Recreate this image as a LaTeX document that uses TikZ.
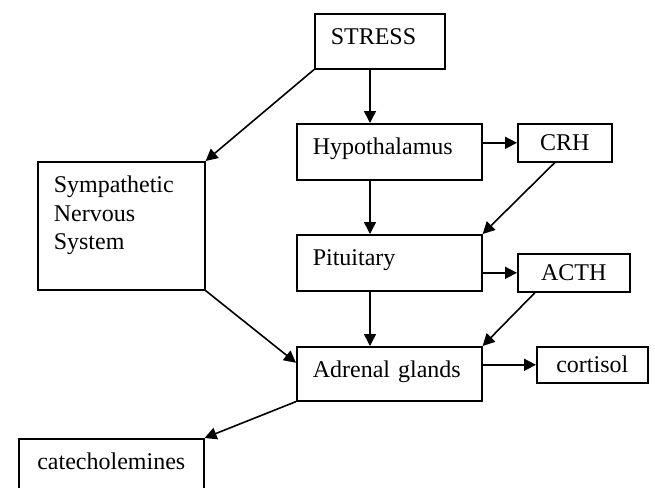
\documentclass[tikz,border=0pt]{standalone}
\usepackage{fontspec}
\setmainfont{Liberation Serif}
\usetikzlibrary{arrows.meta}
\tikzset{
  box/.style = {draw=black, line width=0.8pt, anchor=north west, inner sep=0pt,
    font=\fontsize{12}{14.25}\selectfont},
  box_l/.style = {box, align=left, inner xsep=8pt, inner ysep=7.5pt,
    text height=8pt},% text on top, left
  box_c/.style = {box, align=center, text height=8pt, text depth=0pt},% text centered
}

\begin{document}
\begin{tikzpicture}[x=0.5pt, y=-0.5pt, >={Triangle[length=6pt,width=6pt]},
  line width=0.8pt]
  \path[use as bounding box, clip] (0,0) rectangle (655,488);

  \coordinate (col) at (370,0);

  \node[box_l, text width=49pt, text depth=4.5pt] (stress) at (314,13) {STRESS};
  \node[box_l, text width=76.5pt, text depth=5pt] (hypo) at (296,123) {Hypothalamus};
  \node[box_l, text width=76.5pt, text depth=5pt] (pit) at (296,234) {Pituitary};
  \node[box_l, text width=76.5pt, text depth=4pt] (adrenal) at (296,346) {Adrenal glands};
  \node[box_l, text width=67.5pt, text depth=41pt] (symp) at (37,161) {Sympathetic\\Nervous\\System};
  \node[box_l, align=center, text width=76.5pt, text depth=4pt] (catechol) at (18,438) {catecholemines};

  \node[box_c, minimum width=47pt, minimum height=19pt] (crh) at (517,123) {CRH};
  \node[box_c, minimum width=56pt, minimum height=19pt] (acth) at (517,253) {ACTH};
  \node[box_c, minimum width=55.5pt, minimum height=18pt] (cortisol) at (536,346) {cortisol};

  %   main axis
  \path[->] (stress.south -| col) edge (hypo.north -| col);
  \path[->] (hypo.south -| col) edge (pit.north -| col);
  \path[->] (pit.south -| col) edge (adrenal.north -| col);
  %   hormones
  \path[->] (crh.west -| hypo.east) edge (crh.west);
  \path[->] ([xshift=-5pt]crh.south) edge (pit.north east);
  \path[->] (acth.west -| pit.east) edge (acth.west);
  \path[->] ([xshift=9pt]acth.south west) edge (adrenal.north east);
  \path[->] (cortisol.west -| adrenal.east) edge (cortisol.west);
  %   nervous system
  \path[->] (stress.south west) edge (symp.north east);
  \path[->] (symp.south east) edge ([yshift=5.5pt]adrenal.west);
  \path[->] (adrenal.south west) edge (catechol.north east);
\end{tikzpicture}
\end{document}
